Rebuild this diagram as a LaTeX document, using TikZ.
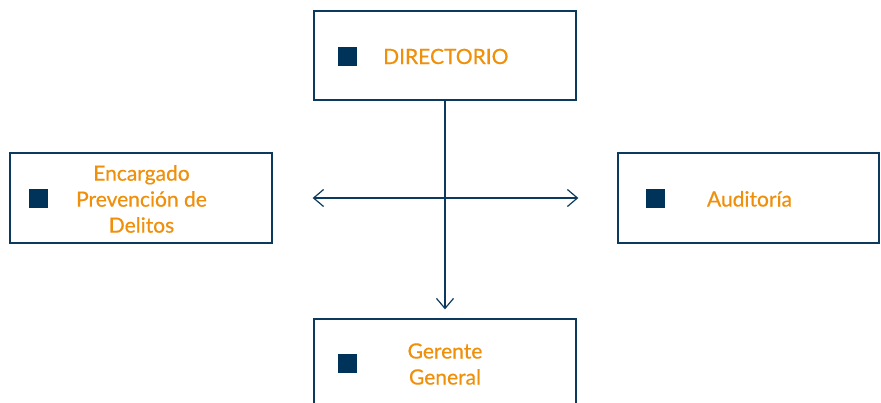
\documentclass[tikz,border=0pt]{standalone}
\usepackage{fontspec}
\setmainfont{Lato}[FakeBold=0.5]
\usetikzlibrary{arrows.meta}
\definecolor{navy}{HTML}{0B3A5E}
\definecolor{orangetxt}{HTML}{F0900A}
\definecolor{sqfill}{HTML}{003359}
\tikzset{
  orgbox/.style={draw=navy, line width=1.3pt, minimum width=262pt, minimum height=89pt, inner sep=0pt, fill=white},
  bullet/.style={fill=sqfill, minimum size=19pt, inner sep=0pt},
  label/.style={text=orangetxt, font=\fontsize{21}{26}\selectfont, align=center, inner sep=0pt},
  conn/.style={draw=navy, line width=1.2pt, -{Straight Barb[length=10pt,width=17pt,line width=1.2pt]}}
}
\begin{document}
\begin{tikzpicture}[x=1pt,y=-1pt]
\useasboundingbox (0,0) rectangle (881,402);
\clip (0,0) rectangle (881,402);
\node[orgbox] (dir) at (445,55.5) {};
\node[orgbox, minimum height=90pt] (enc) at (141,198) {};
\node[orgbox, minimum width=261pt, minimum height=90pt] (aud) at (748.5,198) {};
\node[orgbox] (ger) at (445,363.5) {};
\node[bullet] (sqdir) at (347.5,56.5) {};
\node[bullet] (sqenc) at (38.5,198.5) {};
\node[bullet] (sqaud) at (655.5,198.5) {};
\node[bullet] (sqger) at (347.5,363.5) {};
\node[label, anchor=base west] (tdir) at (383,64) {DIRECTORIO};
\node[label] (tenc) at (141.5,199) {Encargado\\Prevención de\\Delitos};
\node[label, anchor=base] (taud) at (749.5,206.5) {Auditoría};
\node[label] (tger) at (445,364) {Gerente\\General};
\coordinate (hub) at (445,198);
\draw[conn] (dir.south) -- ([yshift=9pt]ger.north);
\draw[conn] (hub) -- ([xshift=40pt]enc.east);
\draw[conn] (hub) -- ([xshift=-39pt]aud.west);
\end{tikzpicture}
\end{document}
